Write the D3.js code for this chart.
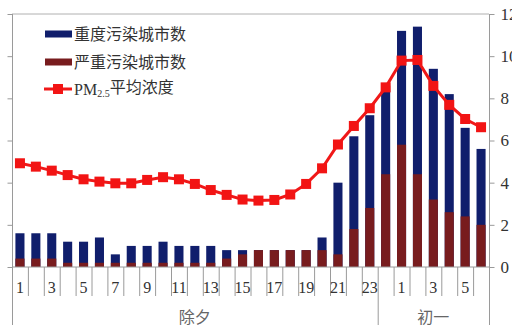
<!DOCTYPE html>
<html><head><meta charset="utf-8">
<script src="https://cdn.jsdelivr.net/npm/d3@7/dist/d3.min.js"></script>
<style>body{margin:0;background:#fff}svg{display:block}</style>
</head><body>
<script>
// ---- data ----
const days = ["1","2","3","4","5","6","7","8","9","10","11","12","13","14","15","16","17","18","19","20","21","22","23",
              "0","1","2","3","4","5","6"];
const groups = [{name:"除夕", start:0, end:23}, {name:"初一", start:23, end:30}];
const severe = [4,4,4,2,2,2,2,2,2,2,2,2,2,4,6,8,8,8,8,8,6,18,28,44,58,44,32,26,24,20];
const heavy  = [12,12,12,10,10,12,4,8,8,10,8,8,8,4,2,0,0,0,0,6,34,44,44,42,54,70,62,56,42,36];
const pm25   = [4.92,4.76,4.57,4.36,4.16,4.05,3.97,3.97,4.13,4.26,4.16,3.94,3.65,3.42,3.20,3.15,3.18,3.44,3.94,4.68,5.81,6.69,7.53,8.52,9.79,9.82,8.59,7.69,7.02,6.63];
const leftTicks = [0,20,40,60,80,100,120];
const rightTicks = [0,2,4,6,8,10,12];
const legendItems = ["重度污染城市数","严重污染城市数","PM2.5平均浓度"];

const W=512,H=336;
const L=12,R=489,T=14,B=267;
const svg=d3.select("body").append("svg").attr("width",W).attr("height",H);

const x=d3.scaleBand().domain(d3.range(days.length)).range([L,R]).padding(0);
const yL=d3.scaleLinear().domain([0,120]).range([B,T]);
const yR=d3.scaleLinear().domain([0,12]).range([B,T]);
const bw=x.bandwidth()*0.57;
const axisColor="#9a9a9a";

// top frame line
svg.append("line").attr("x1",L).attr("x2",R).attr("y1",T).attr("y2",T).attr("stroke","#b0b0b0").attr("stroke-width",1);

// bars
const bars=svg.append("g");
days.forEach((d,i)=>{
  const cx=x(i)+x.bandwidth()/2;
  bars.append("rect").attr("x",cx-bw/2).attr("width",bw)
    .attr("y",yL(severe[i]+heavy[i])).attr("height",yL(0)-yL(severe[i]+heavy[i])).attr("fill","#101e6c");
  bars.append("rect").attr("x",cx-bw/2).attr("width",bw)
    .attr("y",yL(severe[i])).attr("height",yL(0)-yL(severe[i])).attr("fill","#781c1e");
});

// baseline
svg.append("line").attr("x1",L).attr("x2",R).attr("y1",B).attr("y2",B).attr("stroke",axisColor);

// category separators
const sepG=svg.append("g");
for(let i=0;i<=days.length;i++){
  const xx = i<days.length ? x(i) : R;
  const isGroup = groups.some(g=>g.start===i||g.end===i);
  sepG.append("line").attr("x1",xx+0.5).attr("x2",xx+0.5).attr("y1",B).attr("y2",isGroup?325:296)
    .attr("stroke",axisColor).attr("stroke-width",1);
}
[L,R].forEach(xx=>svg.append("line").attr("x1",xx+0.5).attr("x2",xx+0.5).attr("y1",T).attr("y2",325).attr("stroke",axisColor));

// category labels
days.forEach((d,i)=>{
  if(i%2===0){
    svg.append("text").attr("x",x(i)+x.bandwidth()/2).attr("y",287).attr("dy","0.35em")
      .attr("text-anchor","middle").attr("font-family","Liberation Serif").attr("font-size",16)
      .attr("fill","#333").text(d);
  }
});
groups.forEach(g=>{
  const cx=(x(g.start)+ (g.end<days.length?x(g.end):R))/2;
  svg.append("text").attr("x",cx).attr("y",317).attr("dy","0.35em").attr("text-anchor","middle")
    .attr("font-family","Noto Sans CJK SC").attr("font-size",16).attr("fill","#666").text(g.name);
});

// left axis ticks (labels lie outside the picture)
const la=svg.append("g").attr("transform",`translate(${L+0.5},0)`)
  .call(d3.axisLeft(yL).tickValues(leftTicks).tickSize(5).tickFormat(""));
la.select(".domain").remove();
la.selectAll("line").attr("stroke",axisColor);

// right axis
const ra=svg.append("g").attr("transform",`translate(${R+0.5},0)`)
  .call(d3.axisRight(yR).tickValues(rightTicks).tickSize(5).tickPadding(6));
ra.select(".domain").remove();
ra.selectAll("line").attr("stroke",axisColor);
ra.selectAll("text").attr("font-family","Liberation Serif").attr("font-size",17).attr("fill","#333");

// PM2.5 line
const line=d3.line().x((d,i)=>x(i)+x.bandwidth()/2).y(d=>yR(d));
svg.append("path").datum(pm25).attr("d",line).attr("fill","none").attr("stroke","#f01818").attr("stroke-width",3);
svg.append("g").selectAll("rect").data(pm25).join("rect")
  .attr("x",(d,i)=>x(i)+x.bandwidth()/2-5).attr("y",d=>yR(d)-5).attr("width",10).attr("height",10)
  .attr("fill","#f21414");

// legend
const lg=svg.append("g");
const ly=[34,62,89];
lg.append("rect").attr("x",45).attr("y",ly[0]-3.5).attr("width",27).attr("height",7).attr("fill","#101e6c");
lg.append("rect").attr("x",45).attr("y",ly[1]-3.5).attr("width",27).attr("height",7).attr("fill","#781c1e");
lg.append("line").attr("x1",44).attr("x2",72).attr("y1",ly[2]).attr("y2",ly[2]).attr("stroke","#f01818").attr("stroke-width",3);
lg.append("rect").attr("x",53).attr("y",ly[2]-5).attr("width",10).attr("height",10).attr("fill","#f21414");
[0,1].forEach(k=>lg.append("text").attr("x",74).attr("y",ly[k]).attr("dy","0.35em")
  .attr("font-family","Noto Sans CJK SC").attr("font-size",16).attr("fill","#333").text(legendItems[k]));
const t3=lg.append("text").attr("x",74).attr("y",ly[2]).attr("dy","0.35em").attr("font-size",16).attr("fill","#333");
t3.append("tspan").attr("font-family","Liberation Serif").text("PM");
t3.append("tspan").attr("font-family","Liberation Serif").attr("font-size",10).attr("dy","0.25em").text("2.5");
t3.append("tspan").attr("font-family","Noto Sans CJK SC").attr("dy","-0.25em").text("平均浓度");
</script>
</body></html>
